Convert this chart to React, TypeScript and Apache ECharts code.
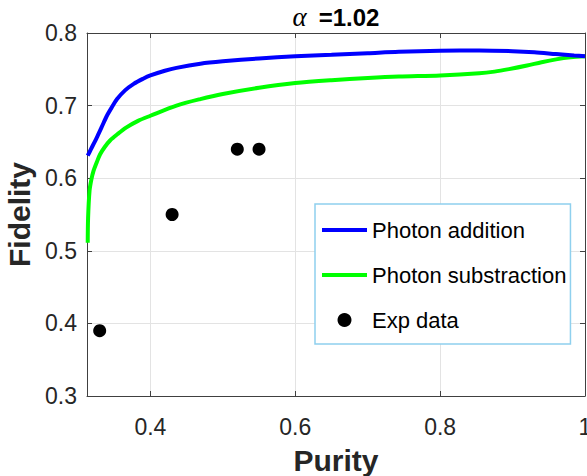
import React, { useEffect, useRef } from "react";
import * as echarts from "echarts";

const xTicks = [0.4, 0.6, 0.8, 1];
const yTicks = [0.3, 0.4, 0.5, 0.6, 0.7, 0.8];

const additionPurity = [0.3135, 0.318, 0.326, 0.333, 0.34, 0.347, 0.354, 0.365, 0.377, 0.39, 0.4, 0.42, 0.436, 0.469, 0.5, 0.55, 0.6, 0.65, 0.7, 0.743, 0.8, 0.854, 0.9, 0.93, 0.96, 0.985, 1.0];
const additionFidelity = [0.631, 0.64, 0.656, 0.671, 0.686, 0.698, 0.709, 0.721, 0.73, 0.737, 0.7415, 0.748, 0.752, 0.7577, 0.761, 0.765, 0.768, 0.77, 0.7722, 0.7742, 0.7755, 0.776, 0.775, 0.7735, 0.771, 0.769, 0.768];

const subtractionPurity = [0.3135, 0.314, 0.316, 0.3185, 0.3215, 0.326, 0.3306, 0.337, 0.344, 0.355, 0.367, 0.383, 0.4, 0.436, 0.469, 0.5, 0.55, 0.6, 0.65, 0.7, 0.743, 0.8, 0.854, 0.875, 0.895, 0.92, 0.94, 0.96, 0.98, 1.0];
const subtractionFidelity = [0.511, 0.545, 0.5825, 0.598, 0.61, 0.622, 0.633, 0.643, 0.6516, 0.661, 0.67, 0.679, 0.686, 0.7, 0.709, 0.716, 0.7245, 0.731, 0.735, 0.738, 0.74, 0.7415, 0.7445, 0.7468, 0.7502, 0.7552, 0.7598, 0.7637, 0.7665, 0.768];

const expPurity = [0.33, 0.43, 0.52, 0.55];
const expFidelity = [0.39, 0.55, 0.64, 0.64];

const seriesNames = ["Photon addition", "Photon substraction", "Exp data"];

const FONT = "'Liberation Sans', Arial, Helvetica, sans-serif";

export default function App() {
  const ref = useRef<HTMLDivElement>(null);
  useEffect(() => {
    if (!ref.current) return;
    const chart = echarts.init(ref.current, null, { renderer: "svg" });
    const zip = (xs: number[], ys: number[]) => xs.map((x, i) => [x, ys[i]]);
    const axisColor = "#404040";
    const gridColor = "#e3e3e3";
    chart.setOption({
      animation: false,
      backgroundColor: "#ffffff",
      grid: { left: 87, right: 2, top: 33, bottom: 80, containLabel: false, outerBoundsMode: "none" },
      graphic: [
        {
          type: "text",
          x: 336,
          y: 17,
          style: {
            text: "{a|α}{b|=1.02}",
            align: "center",
            verticalAlign: "middle",
            rich: {
              a: { fontFamily: "'Liberation Serif', 'DejaVu Serif', serif", fontStyle: "italic", fontSize: 27, fill: "#000", padding: [0, 12, 0, 0] },
              b: { fontFamily: FONT, fontWeight: "bold", fontSize: 24, fill: "#000" },
            },
          },
        },
      ],
      legend: {
        orient: "vertical",
        left: 315,
        top: 204,
        width: 254,
        padding: [15, 4, 13, 5],
        itemWidth: 45,
        itemHeight: 14,
        itemGap: 23,
        borderColor: "#8fd0ee",
        borderWidth: 1.5,
        backgroundColor: "#ffffff",
        textStyle: { fontFamily: FONT, fontSize: 22, color: "#000" },
        data: [
          { name: seriesNames[0], itemStyle: { opacity: 0 }, lineStyle: { width: 4 } },
          { name: seriesNames[1], itemStyle: { opacity: 0 }, lineStyle: { width: 4 } },
          { name: seriesNames[2], icon: "circle", itemStyle: { color: "#000", opacity: 1 } },
        ],
      },
      xAxis: [
        {
          type: "value",
          min: 0.3125,
          max: 1,
          name: "Purity",
          nameLocation: "middle",
          nameGap: 49,
          nameTextStyle: { fontFamily: FONT, fontWeight: "bold", fontSize: 30, color: "#262626" },
          axisLine: { show: true, onZero: false, lineStyle: { color: axisColor, width: 1 } },
          axisTick: { show: true, inside: true, length: 5, customValues: xTicks, lineStyle: { color: axisColor } },
          axisLabel: { customValues: xTicks, margin: 19, fontFamily: FONT, fontSize: 23, color: "#262626", formatter: (v: number) => String(v) },
          splitLine: { show: true, lineStyle: { color: gridColor, width: 1 } },
        },
        {
          type: "value",
          position: "top",
          min: 0.3125,
          max: 1,
          axisLine: { show: true, onZero: false, lineStyle: { color: axisColor, width: 1 } },
          axisTick: { show: true, inside: true, length: 5, customValues: xTicks, lineStyle: { color: axisColor } },
          axisLabel: { show: false },
          splitLine: { show: false },
        },
      ],
      yAxis: [
        {
          type: "value",
          min: 0.3,
          max: 0.8,
          interval: 0.1,
          name: "Fidelity",
          nameLocation: "middle",
          nameGap: 50,
          nameTextStyle: { fontFamily: FONT, fontWeight: "bold", fontSize: 30, color: "#262626" },
          axisLine: { show: true, onZero: false, lineStyle: { color: axisColor, width: 1 } },
          axisTick: { show: true, inside: true, length: 5, lineStyle: { color: axisColor } },
          axisLabel: { margin: 10, fontFamily: FONT, fontSize: 23, color: "#262626", formatter: (v: number) => v.toFixed(1) },
          splitLine: { show: true, lineStyle: { color: gridColor, width: 1 } },
        },
        {
          type: "value",
          position: "right",
          min: 0.3,
          max: 0.8,
          interval: 0.1,
          axisLine: { show: true, onZero: false, lineStyle: { color: axisColor, width: 1 } },
          axisTick: { show: true, inside: true, length: 5, lineStyle: { color: axisColor } },
          axisLabel: { show: false },
          splitLine: { show: false },
        },
      ],
      series: [
        {
          name: seriesNames[0],
          type: "line",
          data: zip(additionPurity, additionFidelity),
          symbol: "none",
          smooth: 0.3,
          clip: false,
          color: "#0000ff",
          lineStyle: { color: "#0000ff", width: 4 },
          z: 3,
        },
        {
          name: seriesNames[1],
          type: "line",
          data: zip(subtractionPurity, subtractionFidelity),
          symbol: "none",
          smooth: 0.3,
          clip: false,
          color: "#00ff00",
          lineStyle: { color: "#00ff00", width: 4 },
          z: 2,
        },
        {
          name: seriesNames[2],
          type: "scatter",
          data: zip(expPurity, expFidelity),
          symbol: "circle",
          symbolSize: 13,
          color: "#000000",
          itemStyle: { color: "#000000", opacity: 1 },
          z: 4,
        },
      ],
    });
    return () => chart.dispose();
  }, []);
  return <div ref={ref} style={{ width: 587, height: 476, position: "fixed", left: 0, top: 0 }} />;
}
